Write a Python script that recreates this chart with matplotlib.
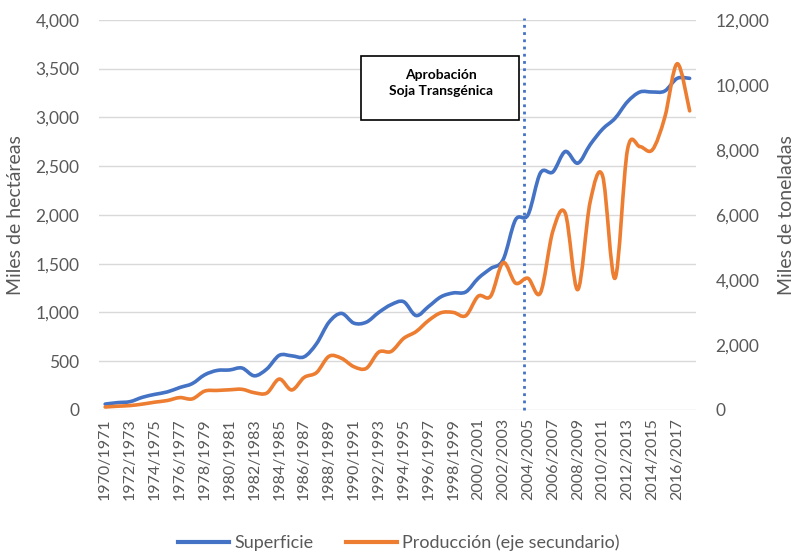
import matplotlib
matplotlib.use("Agg")
import matplotlib.pyplot as plt
from matplotlib.path import Path
from matplotlib.patches import PathPatch, Rectangle
from matplotlib.lines import Line2D
import numpy as np

plt.rcParams['font.family'] = ['Lato', 'DejaVu Sans']

campaigns = [f"{y}/{y+1}" for y in range(1970, 2018)]
superficie = [60, 75, 85, 130, 160, 185, 230, 270, 360, 405,
              410, 430, 350, 420, 560, 555, 545, 680, 900, 990,
              890, 900, 1000, 1080, 1110, 968, 1060, 1160, 1200, 1210,
              1350, 1450, 1540, 1950, 2000, 2430, 2440, 2650, 2530, 2720,
              2880, 2990, 3160, 3260, 3260, 3270, 3400, 3400]
produccion = [90, 115, 135, 180, 240, 290, 380, 340, 580, 600,
              620, 635, 530, 520, 950, 615, 1000, 1150, 1650, 1590,
              1330, 1280, 1780, 1800, 2200, 2410, 2750, 2990, 3000, 2900,
              3500, 3500, 4530, 3900, 4050, 3600, 5500, 6050, 3700, 6400,
              7200, 4050, 8000, 8100, 8000, 9000, 10650, 9200]
left_ticks = list(range(0, 4001, 500))
right_ticks = list(range(0, 12001, 2000))
label_sup = "Superficie"
label_prod = "Producción (eje secundario)"
approval_pos = 33.7
approval_text = "Aprobación\nSoja Transgénica"

BLUE = "#4472C4"
ORANGE = "#ED7D31"
GREY = "#595959"


def smooth_path(x, y):
    pts = np.column_stack([x, y]).astype(float)
    n = len(pts)
    verts = [pts[0]]
    codes = [Path.MOVETO]
    for i in range(n - 1):
        p0 = pts[i - 1] if i > 0 else pts[i]
        p1 = pts[i]
        p2 = pts[i + 1]
        p3 = pts[i + 2] if i + 2 < n else pts[i + 1]
        c1 = p1 + (p2 - p0) / 6.0
        c2 = p2 - (p3 - p1) / 6.0
        verts += [c1, c2, p2]
        codes += [Path.CURVE4] * 3
    return Path(verts, codes)


fig = plt.figure(figsize=(7.98, 5.51), dpi=100)
ax = fig.add_axes([0.124, 0.256, 0.748, 0.708])
ax2 = ax.twinx()

x = np.arange(len(campaigns))
ax.add_patch(PathPatch(smooth_path(x, superficie), fill=False, edgecolor=BLUE,
                       lw=2.6, capstyle='round', joinstyle='round', zorder=3))
ax2.add_patch(PathPatch(smooth_path(x, produccion), fill=False, edgecolor=ORANGE,
                        lw=2.6, capstyle='round', joinstyle='round', zorder=3))

ax.set_xlim(-0.5, len(campaigns) - 0.5)
ax.set_ylim(0, 4000)
ax2.set_ylim(0, 12000)

ax.set_yticks(left_ticks)
ax.set_yticklabels([f"{v:,}" for v in left_ticks])
ax2.set_yticks(right_ticks)
ax2.set_yticklabels([f"{v:,}" for v in right_ticks])
ax.set_xticks(x[::2])
ax.set_xticklabels(campaigns[::2], rotation=90)

ax.grid(axis='y', color='#D9D9D9', lw=1)
ax.set_axisbelow(True)
for a in (ax, ax2):
    for s in a.spines.values():
        s.set_visible(False)
    a.tick_params(length=0, colors=GREY, labelsize=12.5)
ax.tick_params(axis='x', labelsize=11.5, pad=6)
ax.tick_params(axis='y', pad=14)
ax2.tick_params(axis='y', pad=14)

ax.set_ylabel("Miles de hectáreas", color=GREY, fontsize=14, labelpad=8)
ax2.set_ylabel("Miles de toneladas", color=GREY, fontsize=14, labelpad=6)

ax.axvline(approval_pos, ymin=0, ymax=1.005, color=BLUE, ls=(0, (1, 1.6)),
           lw=2.0, clip_on=False, zorder=4)

ax.add_patch(Rectangle((20.6, 2974), 12.7, 657, facecolor='white',
                       edgecolor='black', lw=1.2, zorder=5))
ax.text(27.0, 3350, approval_text, ha='center', va='center', fontsize=10,
        fontweight='bold', color='black', zorder=6, linespacing=1.4)

handles = [Line2D([], [], color=BLUE, lw=3), Line2D([], [], color=ORANGE, lw=3)]
fig.legend(handles, [label_sup, label_prod], loc='lower center',
           bbox_to_anchor=(0.5, -0.03), ncol=2, frameon=False, fontsize=13,
           labelcolor=GREY, handlelength=2.8, columnspacing=1.8, handletextpad=0.3)

fig.savefig("out.png", dpi=100)
